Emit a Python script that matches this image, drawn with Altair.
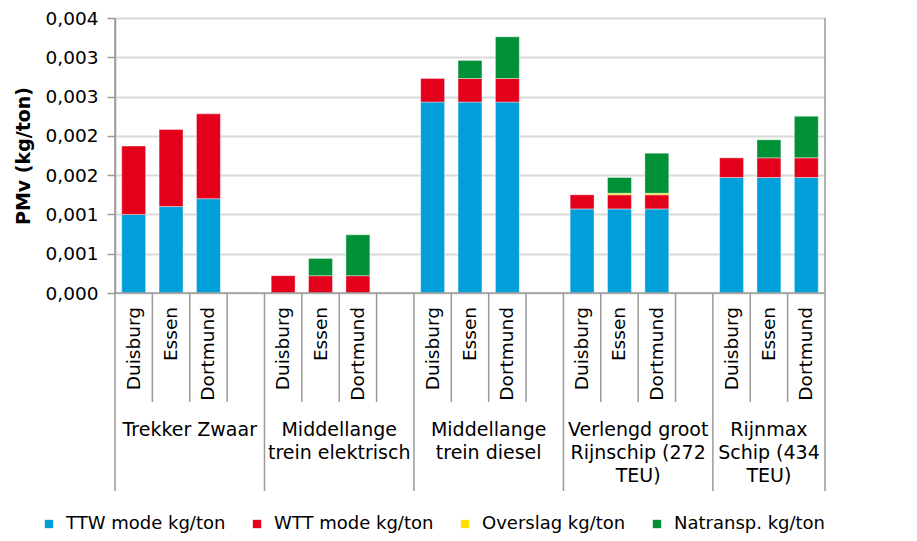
import altair as alt
import pandas as pd

# ---- data ----
groups = ["Trekker Zwaar", "Middellange\ntrein elektrisch", "Middellange\ntrein diesel",
          "Verlengd groot\nRijnschip (272\nTEU)", "Rijnmax\nSchip (434\nTEU)"]
cities = ["Duisburg", "Essen", "Dortmund"]
series = ["TTW mode kg/ton", "WTT mode kg/ton", "Overslag kg/ton", "Natransp. kg/ton"]
colors = ["#009FDA", "#E2001A", "#FFE000", "#009036"]

ttw = [0.00100, 0.00110, 0.00120, 0, 0, 0, 0.00243, 0.00243, 0.00243,
       0.00107, 0.00107, 0.00107, 0.00147, 0.00147, 0.00147]
wtt = [0.00087, 0.00098, 0.00108, 0.00022, 0.00022, 0.00022, 0.00030, 0.00030, 0.00030,
       0.00018, 0.00018, 0.00018, 0.00025, 0.00025, 0.00025]
overslag = [0, 0, 0, 0, 0, 0, 0, 0, 0, 0, 0.00002, 0.00002, 0, 0, 0]
natransp = [0, 0, 0, 0, 0.00022, 0.00052, 0, 0.00023, 0.00053, 0, 0.00020, 0.00051,
            0, 0.00023, 0.00053]

y_ticks = [0, 0.0005, 0.001, 0.0015, 0.002, 0.0025, 0.003, 0.0035]
y_labels = ["0,000", "0,001", "0,001", "0,002", "0,002", "0,003", "0,003", "0,004"]

# ---- build tables ----
SLOTS_PER_GROUP = 4
n_slots = SLOTS_PER_GROUP * len(groups) - 1
rows = []
for s_i, (name, vals) in enumerate(zip(series, [ttw, wtt, overslag, natransp])):
    for g in range(len(groups)):
        for c in range(len(cities)):
            k = g * len(cities) + c
            slot = g * SLOTS_PER_GROUP + c
            rows.append({"series": name, "ord": s_i, "value": vals[k],
                         "lo": slot + 0.18, "hi": slot + 0.82, "key": slot})
bars_df = pd.DataFrame(rows)

city_df = pd.DataFrame([{"city": cities[c], "x": g * SLOTS_PER_GROUP + c + 0.5}
                        for g in range(len(groups)) for c in range(len(cities))])

grp_df = pd.DataFrame([{"label": groups[g],
                        "x": (g * SLOTS_PER_GROUP + min(g * SLOTS_PER_GROUP + SLOTS_PER_GROUP, n_slots)) / 2}
                       for g in range(len(groups))])

W, H = 710, 275
sep_rows = []
for b in range(n_slots + 1):
    is_group = (b % SLOTS_PER_GROUP == 0) or b == n_slots
    top = 0 if b in (0, n_slots) else H
    sep_rows.append({"x": b, "y1": top, "y2": 473 if is_group else 384})
sep_df = pd.DataFrame(sep_rows)

FONT = "DejaVu Sans"
FS = 19
xscale = alt.Scale(domain=[0, n_slots], nice=False, zero=False)

label_expr = "[" + ",".join(f"'{l}'" for l in y_labels) + "][round(datum.value/0.0005)]"

bars = alt.Chart(bars_df).transform_filter("datum.value > 0").transform_stack(
    stack="value", groupby=["key"], as_=["y0", "y1"],
    sort=[alt.SortField("ord", order="ascending")]
).mark_bar(stroke="white", strokeWidth=0.4).encode(
    x=alt.X("lo:Q", scale=xscale, axis=None),
    x2="hi:Q",
    y=alt.Y("y0:Q",
            scale=alt.Scale(domain=[0, 0.0035], nice=False),
            axis=alt.Axis(values=y_ticks, labelExpr=label_expr, title="PMv (kg/ton)",
                          titleFont=FONT, titleFontSize=FS, titleFontWeight="bold",
                          titleColor="black", titleX=-92, titleY=H / 2,
                          titleAngle=270, titleAlign="center", titleBaseline="middle",
                          labelFont=FONT, labelFontSize=18.5, labelColor="black",
                          labelPadding=9, tickSize=8, tickColor="#9a9a9a", tickWidth=1.5,
                          domainColor="#9a9a9a", domainWidth=1.5,
                          grid=True, gridColor="#d9d9d9", gridWidth=2)),
    y2="y1:Q",
    color=alt.Color("series:N", scale=alt.Scale(domain=series, range=colors),
                    legend=alt.Legend(orient="none", direction="horizontal",
                                      legendX=-75, legendY=497, title=None,
                                      labelFont=FONT, labelFontSize=18, labelColor="black",
                                      labelLimit=0,
                                      symbolType="square", symbolSize=70,
                                      symbolStrokeWidth=0, labelOffset=8,
                                      columnPadding=22)),
)

xaxis_line = alt.Chart(pd.DataFrame({"a": [0]})).mark_rule(
    color="#9a9a9a", strokeWidth=1.5
).encode(x=alt.value(0), x2=alt.value(W), y=alt.value(H))

seps = alt.Chart(sep_df).mark_rule(color="#9a9a9a", strokeWidth=1.5).encode(
    x=alt.X("x:Q", scale=xscale),
    y=alt.Y("y1:Q", scale=None),
    y2="y2:Q",
)

city_text = alt.Chart(city_df).mark_text(
    angle=270, align="right", baseline="middle", font=FONT, fontSize=18.5, color="black"
).encode(x=alt.X("x:Q", scale=xscale), y=alt.value(H + 14), text="city:N")

grp_text = alt.Chart(grp_df).mark_text(
    align="center", baseline="alphabetic", font=FONT, fontSize=FS, color="black",
    lineBreak="\n", lineHeight=23
).encode(x=alt.X("x:Q", scale=xscale), y=alt.value(418), text="label:N")

chart = alt.layer(bars, xaxis_line, seps, city_text, grp_text).properties(
    width=W, height=H,
    autosize=alt.AutoSizeParams(type="none"),
    padding={"left": 107, "top": 10, "right": 84, "bottom": 246},
).configure_view(stroke=None).resolve_scale(y="independent")

chart.save("out.html", embed_options={"renderer": "svg", "actions": False})
